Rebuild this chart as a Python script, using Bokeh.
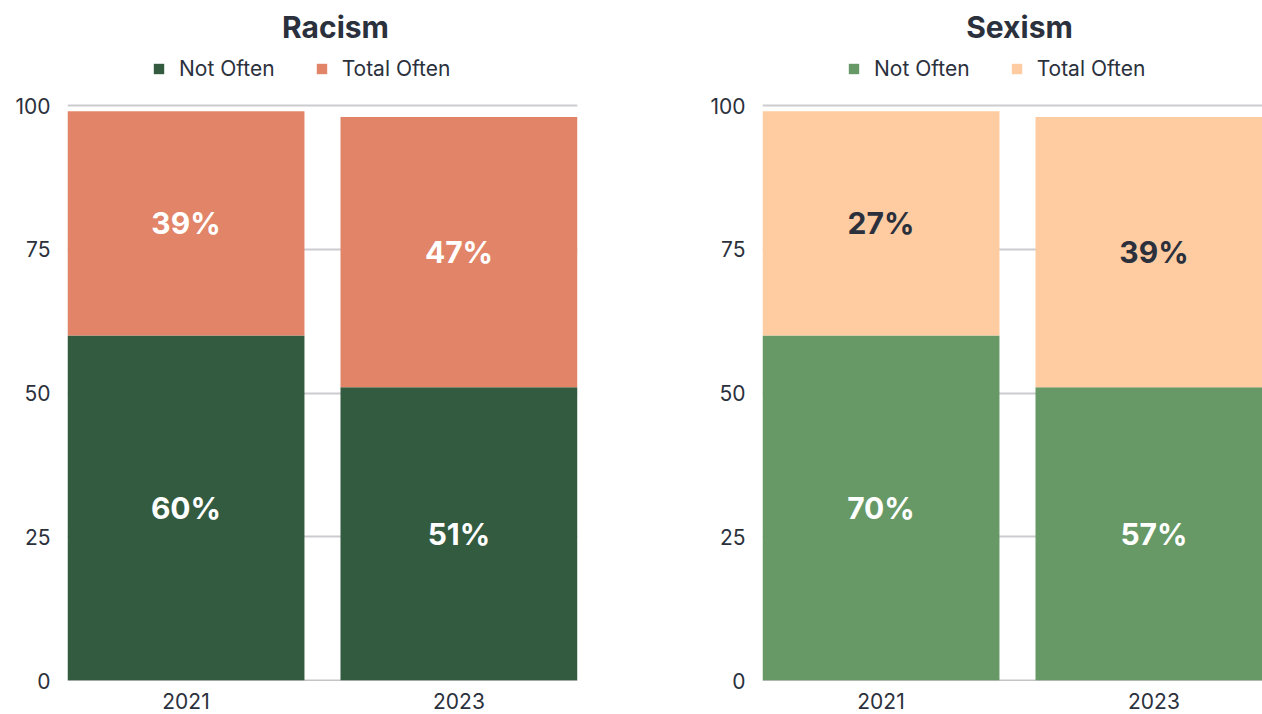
from bokeh.plotting import figure
from bokeh.models import (Range1d, FixedTicker, Span, Legend, LegendItem,
                          ColumnDataSource, Label)
from bokeh.layouts import row
from bokeh.embed import file_html
from bokeh.resources import INLINE
from bokeh.core.properties import value

# ---------------- data ----------------
years = ["2021", "2023"]
series = ["Not Often", "Total Often"]

racism_not_often = [60, 51]
racism_total_often = [39, 47]
racism_not_often_labels = ["60%", "51%"]
racism_total_often_labels = ["39%", "47%"]

# bar heights as drawn in the chart, and the labels printed on them
sexism_not_often = [60, 51]
sexism_total_often = [39, 47]
sexism_not_often_labels = ["70%", "57%"]
sexism_total_often_labels = ["27%", "39%"]

y_ticks = [0, 25, 50, 75, 100]

# ---------------- style / layout ----------------
FONT = "Inter"
TEXT_DARK = "#2b313c"
GRID = "#cbcbd0"
BAR_W = 0.868
PX_PER_UNIT = 273.0
FRAME_H = 680          # frame from top of canvas to the zero line
PLOT_H = 575           # pixels between 0 and 100
BOTTOM = 34


def make_panel(title, not_often, total_often, no_labels, to_labels, colors,
               label_colors, frame_width, border_left, border_right,
               title_x, legend_x):
    idx = list(range(len(years)))
    start = -BAR_W / 2
    y_end = y_ticks[-1] * FRAME_H / PLOT_H
    p = figure(
        output_backend="svg", toolbar_location=None,
        width=border_left + frame_width + border_right,
        height=FRAME_H + BOTTOM,
        min_border_left=border_left, min_border_right=border_right,
        min_border_top=0, min_border_bottom=BOTTOM,
        x_range=Range1d(start, start + frame_width / PX_PER_UNIT),
        y_range=Range1d(0, y_end),
        outline_line_color=None, background_fill_color="white",
        border_fill_color="white",
    )
    src = ColumnDataSource(dict(x=idx, no=not_often, to=total_often))
    rs = p.vbar_stack(["no", "to"], x="x", width=BAR_W, color=colors,
                      line_color=None, source=src)

    zero = Span(location=0, dimension="width", line_color="#8a8a8a",
                line_width=1.5, level="underlay")
    p.add_layout(zero)

    # labels centred in each segment
    no_y = [v / 2 for v in not_often]
    to_y = [a + b / 2 for a, b in zip(not_often, total_often)]
    for ys, texts, col in ((no_y, no_labels, label_colors[0]),
                           (to_y, to_labels, label_colors[1])):
        p.text(x=idx, y=ys, text=texts, text_align="center",
               text_baseline="middle", text_font=value(FONT),
               text_font_size="30px", text_font_style="bold", text_color=col)

    # axes
    p.xaxis.ticker = FixedTicker(ticks=idx)
    p.xaxis.major_label_overrides = {i: y for i, y in enumerate(years)}
    p.yaxis.ticker = FixedTicker(ticks=y_ticks)
    for ax in (p.xaxis, p.yaxis):
        ax.axis_line_color = None
        ax.major_tick_line_color = None
        ax.minor_tick_line_color = None
        ax.major_tick_out = 0
        ax.major_tick_in = 0
        ax.major_label_text_font = FONT
        ax.major_label_text_font_size = "21px"
        ax.major_label_text_color = TEXT_DARK
    p.xaxis.major_label_standoff = 12
    p.yaxis.major_label_standoff = 17

    p.xgrid.visible = False
    p.ygrid.ticker = FixedTicker(ticks=[t for t in y_ticks if t > 0])
    p.ygrid.grid_line_color = GRID
    p.ygrid.grid_line_width = 2

    legend = Legend(
        items=[LegendItem(label=series[0], renderers=[rs[0]]),
               LegendItem(label=series[1], renderers=[rs[1]])],
        orientation="horizontal", location=(legend_x, 599),
        glyph_width=13, glyph_height=13, label_standoff=14, spacing=40,
        padding=0, margin=0, border_line_color=None, background_fill_alpha=0,
        label_text_font=FONT, label_text_font_size="21px",
        label_text_color=TEXT_DARK,
    )
    p.add_layout(legend)

    p.add_layout(Label(
        text=title, x=title_x, y=FRAME_H - 26, x_units="screen", y_units="screen",
        text_align="center", text_baseline="middle", text_font=FONT,
        text_font_size="30px", text_font_style="bold", text_color=TEXT_DARK))
    return p


p1 = make_panel("Racism", racism_not_often, racism_total_often,
                racism_not_often_labels, racism_total_often_labels,
                ["#335b3f", "#e28468"], ["white", "white"],
                510, 67, 125, 268, 85)
p2 = make_panel("Sexism", sexism_not_often, sexism_total_often,
                sexism_not_often_labels, sexism_total_often_labels,
                ["#669966", "#ffcba1"], ["white", TEXT_DARK],
                500, 60, 0, 257, 85)

layout = row(p1, p2)
open("out.html", "w").write(file_html(layout, INLINE))
